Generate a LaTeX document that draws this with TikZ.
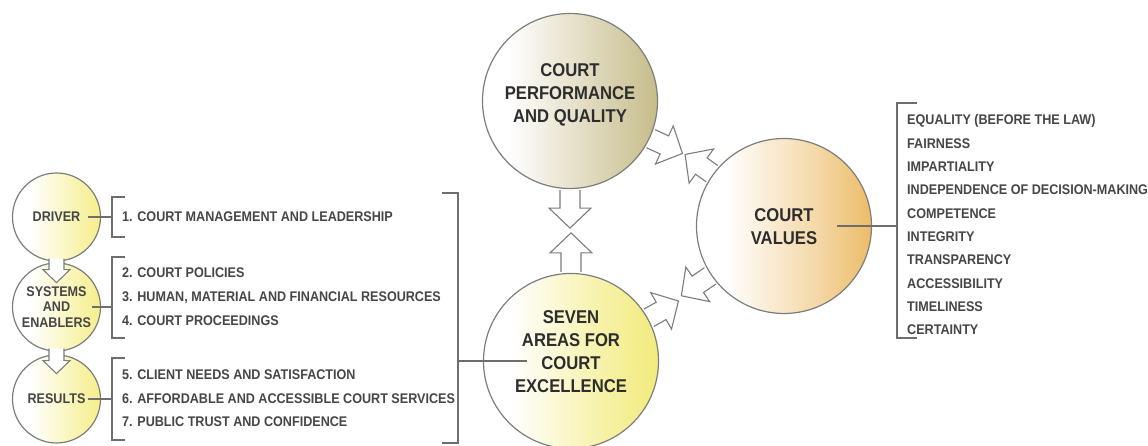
\documentclass[tikz,border=0pt]{standalone}
\usepackage{fontspec}
\setmainfont{Liberation Sans}[FakeStretch=0.9]
\usetikzlibrary{calc}
\usepackage{xcolor}

\definecolor{rimgray}{RGB}{125,125,125}
\definecolor{linegray}{RGB}{110,110,110}
\definecolor{inkdark}{RGB}{45,45,45}
\definecolor{inkgray}{RGB}{70,70,70}
\definecolor{enablerfill}{RGB}{246,238,140}
\definecolor{excellfill}{RGB}{242,235,125}
\definecolor{qualityfill}{RGB}{198,188,138}
\definecolor{valuesfill}{RGB}{236,188,105}

% white on the left, colour towards the right rim
\pgfdeclarehorizontalshading{smallshade}{100bp}{color(0bp)=(white); color(35bp)=(white); color(62bp)=(enablerfill!70); color(75bp)=(enablerfill); color(100bp)=(enablerfill)}
\pgfdeclarehorizontalshading{excellshade}{100bp}{color(0bp)=(white); color(33bp)=(white); color(60bp)=(excellfill!70); color(75bp)=(excellfill); color(100bp)=(excellfill)}
\pgfdeclarehorizontalshading{qualityshade}{100bp}{color(0bp)=(white); color(32bp)=(white); color(60bp)=(qualityfill!65); color(75bp)=(qualityfill); color(100bp)=(qualityfill)}
\pgfdeclarehorizontalshading{valuesshade}{100bp}{color(0bp)=(white); color(33bp)=(white); color(60bp)=(valuesfill!60); color(75bp)=(valuesfill); color(100bp)=(valuesfill)}

\tikzset{
  rim/.style={circle, draw=rimgray, line width=1.2pt, inner sep=0pt},
  bigcircle/.style={rim, minimum size=175pt},
  smallcircle/.style={rim, minimum size=88pt, shading=smallshade,
    font=\bfseries\fontsize{14}{15.5}\selectfont, text=inkgray, align=center},
  bigtext/.style={font=\bfseries\fontsize{18.5}{23}\selectfont, text=inkdark, align=center},
  itemtext/.style={anchor=base west, inner sep=0pt,
    font=\bfseries\fontsize{14}{16}\selectfont, text=inkgray},
  bracket/.style={draw=linegray, line width=1.1pt},
  arrowline/.style={draw=rimgray, line width=1.1pt, fill=white, line join=miter},
  % hollow block arrows, drawn along the local x axis
  pics/fatarrow/.style={code={
    \draw[arrowline] (1,-10) -- ({#1-20},-10) -- ({#1-20},-21) -- (#1,0)
      -- ({#1-20},21) -- ({#1-20},10) -- (1,10);
  }},
  pics/thinarrow/.style={code={
    \draw[arrowline] (-3,-7.5) -- ({#1-13},-7.5) -- ({#1-13},-13.5) -- (#1,0)
      -- ({#1-13},13.5) -- ({#1-13},7.5) -- (-3,7.5);
  }}
}

\begin{document}
\begin{tikzpicture}[x=1pt,y=1pt]
  \useasboundingbox (0,0) rectangle (1148,446);

  % Big circles
  \node[bigcircle, shading=qualityshade] (perf) at (570,345) {};
  \node[bigcircle, shading=excellshade] (seven) at (571,85) {};
  \node[bigcircle, shading=valuesshade] (values) at (784,220) {};
  \node[bigtext] (perftext) at (570,351) {COURT\\PERFORMANCE\\AND QUALITY};
  \node[bigtext] (seventext) at (571,94) {SEVEN\\AREAS FOR\\COURT\\EXCELLENCE};
  \node[bigtext] (valuestext) at (784,219.5) {COURT\\VALUES};

  % Block arrows between the big circles
  \pic[rotate=-90] at (perf.south) {fatarrow=39};
  \pic[rotate=90] at (seven.north) {fatarrow=40};
  \pic[rotate=-25] at (perf.-25) {fatarrow=36};
  \pic[rotate=144.5] at (values.144.5) {fatarrow=34};
  \pic[rotate=29.6] at (seven.29.6) {fatarrow=35};
  \pic[rotate=214.7] at (values.214.7) {fatarrow=36};

  % Small circles on the left
  \node[smallcircle] (driver) at (56.5,229) {DRIVER};
  \node[smallcircle] (systems) at (56.5,139) {SYSTEMS\\AND\\ENABLERS};
  \node[smallcircle] (results) at (56.5,47) {RESULTS};
  \pic[rotate=-90] at (driver.south) {thinarrow=21};
  \pic[rotate=-90] at (systems.south) {thinarrow=22};

  % Numbered areas
  \foreach \txt/\yy [count=\i] in {1. COURT MANAGEMENT AND LEADERSHIP/224,
      2. COURT POLICIES/168, {3. HUMAN, MATERIAL AND FINANCIAL RESOURCES}/144,
      4. COURT PROCEEDINGS/120, 5. CLIENT NEEDS AND SATISFACTION/66,
      6. AFFORDABLE AND ACCESSIBLE COURT SERVICES/42,
      7. PUBLIC TRUST AND CONFIDENCE/19}
    \node[itemtext] (item\i) at (122,\yy) {\txt};

  % Brackets for the three groups
  \coordinate (drvjoin) at (112,229);
  \coordinate (sysjoin) at (112,139);
  \coordinate (resjoin) at (112,47);
  \draw[bracket] (125,249) -- (112,249) -- (112,209) -- (125,209);
  \draw[bracket] (125,189) -- (112,189) -- (112,108) -- (125,108);
  \draw[bracket] (125,88) -- (112,88) -- (112,6) -- (125,6);
  \draw[bracket] ($(driver.center)+(31.5,0)$) -- (drvjoin);
  \draw[bracket] ($(systems.center)+(35.5,0)$) -- (sysjoin);
  \draw[bracket] ($(results.center)+(31.5,0)$) -- (resjoin);

  % Bracket gathering all seven areas
  \coordinate (areajoin) at (458,85);
  \draw[bracket] (442,253) -- (458,253) -- (458,3) -- (442,3);
  \draw[bracket] (areajoin) -- ($(seven.center)+(-44,0)$);

  % Values list
  \foreach \val [count=\i] in {EQUALITY (BEFORE THE LAW), FAIRNESS, IMPARTIALITY,
      INDEPENDENCE OF DECISION-MAKING, COMPETENCE, INTEGRITY, TRANSPARENCY,
      ACCESSIBILITY, TIMELINESS, CERTAINTY}
    \node[itemtext] (val\i) at (907,{321-(\i-1)*23.33}) {\val};
  \coordinate (valjoin) at (897,220);
  \draw[bracket] (917,343) -- (897,343) -- (897,108) -- (917,108);
  \draw[bracket] ($(values.center)+(53,0)$) -- (valjoin);
\end{tikzpicture}
\end{document}
